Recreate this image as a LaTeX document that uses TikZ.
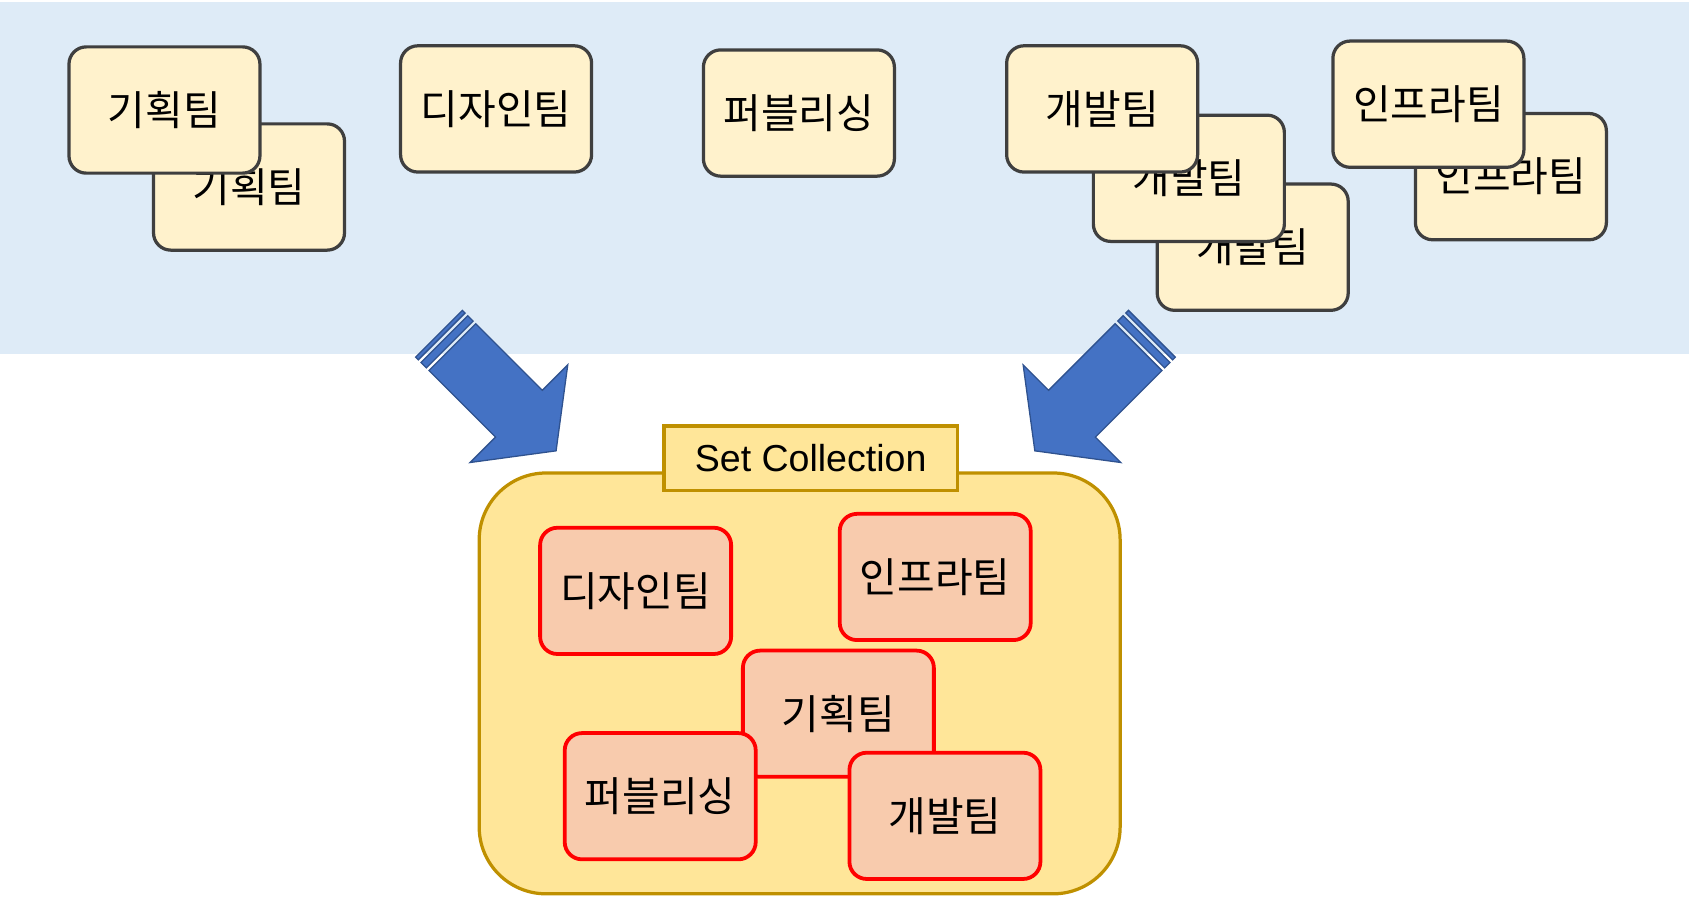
\documentclass[tikz,border=0pt]{standalone}
\usepackage{fontspec}
\setmainfont{Liberation Sans}
\newfontfamily\kofont{Noto Sans CJK KR}
\newcommand{\kotext}{\kofont\fontsize{10.8pt}{13pt}\selectfont}
\pgfdeclarelayer{background}
\pgfsetlayers{background,main}

\definecolor{bandblue}{HTML}{DEEBF7}
\definecolor{cardfill}{HTML}{FFF2CC}
\definecolor{cardline}{HTML}{3F3F3F}
\definecolor{setfill}{HTML}{FFE699}
\definecolor{setline}{HTML}{BF9000}
\definecolor{itemfill}{HTML}{F8CBAD}
\definecolor{arrowblue}{HTML}{4472C4}
\definecolor{arrowline}{HTML}{2F528F}

% striped block arrow, tail at the origin, pointing along +x
\newcommand{\stripearrow}{%
  \filldraw[fill=arrowblue, draw=arrowline, line width=0.012cm]
    (0,-30.7) rectangle (3.5,30.7)
    (7,-30.7) rectangle (14,30.7)
    (17.5,-30.7) -- (104.8,-30.7) -- (104.8,-64) -- (153.5,0)
    -- (104.8,64) -- (104.8,30.7) -- (17.5,30.7) -- cycle;}

\tikzset{
  card/.style={draw=cardline, fill=cardfill, line width=0.03cm,
    rounded corners=0.16cm, minimum width=1.77cm, minimum height=1.17cm,
    inner sep=0pt, font=\kotext},
  item/.style={card, draw=red, fill=itemfill, line width=0.035cm},
  setbox/.style={draw=setline, fill=setfill, line width=0.03cm,
    rounded corners=0.62cm, inner sep=0pt},
  setlabel/.style={draw=setline, fill=setfill, line width=0.03cm,
    minimum width=2.72cm, minimum height=0.6cm, inner sep=0pt,
    font=\fontsize{9.9pt}{12pt}\selectfont}
}

\begin{document}
\begin{tikzpicture}[x=0.01cm, y=-0.01cm]
\useasboundingbox (0,0) rectangle (1568,831.8);
% Blue band behind the teams
\begin{pgfonlayer}{background}
\fill[bandblue] (0,1.5) rectangle (1566,328.6);
\end{pgfonlayer}
% Teams, duplicates first
\node[card] (planB) at (230.9,173.4) {기획팀};
\node[card] (planA) at (152.5,102) {기획팀};
\node[card] (design) at (460,101) {디자인팀};
\node[card] (publish) at (740.8,104.8) {퍼블리싱};
\node[card] (devC) at (1161.6,229.2) {개발팀};
\node[card] (devB) at (1102.4,165.3) {개발팀};
\node[card] (devA) at (1022,101) {개발팀};
\node[card] (infraB) at (1401,163.8) {인프라팀};
\node[card] (infraA) at (1324.5,96.6) {인프라팀};
% The two arrows
\begin{scope}[shift={(407.1,309.5)}, rotate=-45]
\stripearrow
\end{scope}
\begin{scope}[shift={(1068.1,309.5)}, rotate=-135]
\stripearrow
\end{scope}
% Set collection and its items
\node[setbox, minimum width=5.94cm, minimum height=3.9cm] (set) at (741.5,633.7) {};
\node[setlabel] (setname) at (751.7,425) {Set Collection};
\node[item] (setDesign) at (589.4,547.9) {디자인팀};
\node[item] (setInfra) at (867.2,535) {인프라팀};
\node[item] (setPlan) at (777.4,661.8) {기획팀};
\node[item] (setPublish) at (612.2,738.3) {퍼블리싱};
\node[item] (setDev) at (876.2,756.5) {개발팀};
\end{tikzpicture}
\end{document}
